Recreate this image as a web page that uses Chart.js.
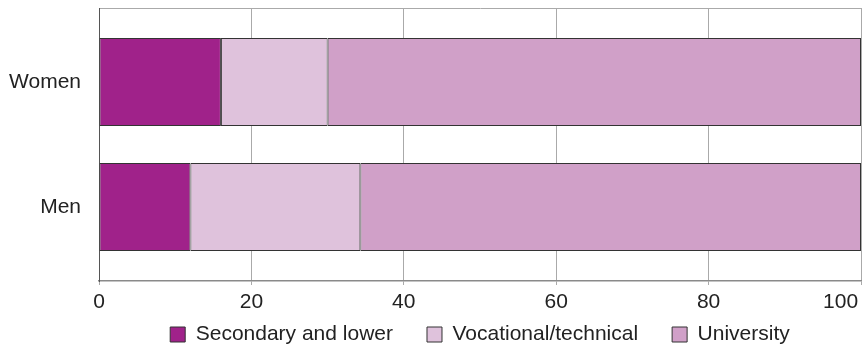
<!DOCTYPE html>
<html>
<head>
<meta charset="utf-8">
<script src="https://cdn.jsdelivr.net/npm/chart.js@4/dist/chart.umd.min.js"></script>
<style>
  html, body { margin: 0; padding: 0; background: #fff; }
  #wrap { width: 864px; height: 350px; position: relative; }
</style>
</head>
<body>
<div id="wrap"><canvas id="eduChart"></canvas></div>
<script>
// values (percent of each group)
const groups = ["Women", "Men"];
const seriesNames = ["Secondary and lower", "Vocational/technical", "University"];
const secondary = [16, 12];
const vocational = [14, 22.3];
const university = [70, 65.7];
const xTicks = [0, 20, 40, 60, 80, 100];

const colours = ["#a0228a", "#dfc2dc", "#d0a0c8"];
const FONT = "'Liberation Sans', Arial, sans-serif";

// linear index axis so the bars can sit where they do in the original
const toPoints = (vals) => vals.map((v, i) => ({ x: v, y: i }));

const data = {
    datasets: [secondary, vocational, university].map((vals, i) => ({
        label: seriesNames[i],
        data: toPoints(vals),
        backgroundColor: colours[i],
        borderColor: "#333333",
        borderWidth: 1,
        borderSkipped: false,
        barPercentage: 0.704,
        categoryPercentage: 1
    }))
};

// x axis box is kept short so the legend can sit close under it;
// widen its clip area again so the tick labels are still drawn
const labelRoom = {
    id: "labelRoom",
    afterLayout(chart) {
        chart.scales.x.bottom = chart.height;
    }
};

new Chart(document.getElementById("eduChart"), {
    type: "bar",
    data,
    plugins: [labelRoom],
    options: {
        indexAxis: "y",
        responsive: true,
        maintainAspectRatio: false,
        animation: false,
        layout: { padding: { top: 8, right: 3, left: 0, bottom: -5 } },
        scales: {
            x: {
                type: "linear",
                stacked: true,
                min: xTicks[0],
                max: xTicks[xTicks.length - 1],
                afterBuildTicks: (axis) => { axis.ticks = xTicks.map(v => ({ value: v })); },
                afterFit: (axis) => { axis.height = 9; axis.paddingRight = 0; },
                grid: { color: "#aaaaaa", lineWidth: 1, tickLength: 4, drawTicks: true },
                border: { color: "#8a8a8a", width: 1.5 },
                ticks: {
                    color: "#222",
                    font: { family: FONT, size: 21 },
                    padding: 5,
                    maxRotation: 0,
                    // last label sits inside the frame in the original
                    callback: (v) => v === 100 ? "100       " : String(v)
                }
            },
            xTop: {
                type: "linear",
                position: "top",
                min: 0,
                max: 100,
                afterFit: (axis) => { axis.height = 0; },
                grid: { display: false, drawTicks: false },
                border: { color: "#aaaaaa", width: 1 },
                ticks: { display: false }
            },
            y: {
                type: "linear",
                stacked: true,
                reverse: true,
                offset: false,
                min: -0.592,
                max: 1.592,
                afterBuildTicks: (axis) => { axis.ticks = groups.map((g, i) => ({ value: i })); },
                afterFit: (axis) => { axis.width = 99; axis.paddingTop = 0; axis.paddingBottom = 0; },
                grid: { display: false, offset: false },
                border: { color: "#555555", width: 1 },
                ticks: {
                    color: "#222",
                    font: { family: FONT, size: 21 },
                    padding: 10,
                    callback: (v) => groups[v] ?? ""
                }
            }
        },
        plugins: {
            legend: {
                position: "bottom",
                fullSize: false,
                labels: {
                    color: "#222",
                    font: { family: FONT, size: 21 },
                    boxWidth: 15,
                    boxHeight: 15,
                    padding: 34
                }
            },
            tooltip: { enabled: false }
        }
    }
});
</script>
</body>
</html>
